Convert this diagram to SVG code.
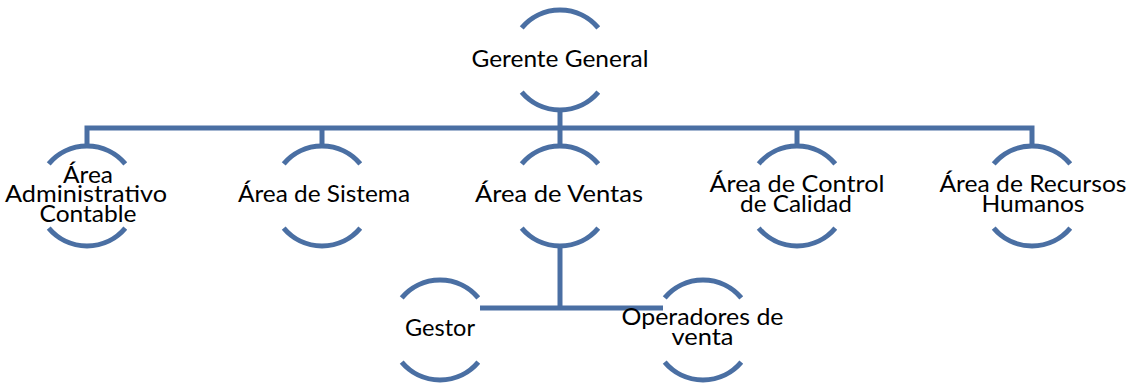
<svg xmlns="http://www.w3.org/2000/svg" xmlns:xlink="http://www.w3.org/1999/xlink" width="1140" height="385" viewBox="0 0 1140 385">
<style>
.arc{fill:none;stroke:#4A6FA3;stroke-width:5}
.conn{fill:none;stroke:#4A6FA3;stroke-width:5;stroke-linejoin:miter;stroke-linecap:butt}
text{font-family:Lato,"Open Sans","Liberation Sans",sans-serif;font-size:23px;fill:#000;text-anchor:middle}
</style>
<defs>
<g id="ring">
<path class="arc" d="M-38.3 -32.1 A50 50 0 0 1 38.3 -32.1"/>
<path class="arc" d="M-38.3 32.1 A50 50 0 0 0 38.3 32.1"/>
</g>
</defs>
<rect width="1140" height="385" fill="#fff"/>
<g id="connectors">
<path class="conn" d="M560 110 V128"/>
<path class="conn" d="M87 146 V128 H1032 V146"/>
<path class="conn" d="M322 128 V146"/>
<path class="conn" d="M560 128 V146"/>
<path class="conn" d="M797 128 V146"/>
<path class="conn" d="M560 246 V308"/>
<path class="conn" d="M480 308 H663"/>
</g>
<g id="gerente">
<use xlink:href="#ring" x="560" y="60"/>
<text x="560" y="67" textLength="177" lengthAdjust="spacingAndGlyphs">Gerente General</text>
</g>
<g id="administrativo">
<use xlink:href="#ring" x="87" y="196"/>
<text x="88" y="183" textLength="50" lengthAdjust="spacingAndGlyphs">Área</text>
<text x="86" y="202" textLength="162" lengthAdjust="spacingAndGlyphs">Administrativo</text>
<text x="88" y="222" textLength="97" lengthAdjust="spacingAndGlyphs">Contable</text>
</g>
<g id="sistema">
<use xlink:href="#ring" x="322" y="196"/>
<text x="324" y="202" textLength="172" lengthAdjust="spacingAndGlyphs">Área de Sistema</text>
</g>
<g id="ventas">
<use xlink:href="#ring" x="560" y="196"/>
<text x="559" y="202" textLength="168" lengthAdjust="spacingAndGlyphs">Área de Ventas</text>
</g>
<g id="calidad">
<use xlink:href="#ring" x="797" y="196"/>
<text x="797" y="192" textLength="175" lengthAdjust="spacingAndGlyphs">Área de Control</text>
<text x="796" y="212" textLength="112" lengthAdjust="spacingAndGlyphs">de Calidad</text>
</g>
<g id="rrhh">
<use xlink:href="#ring" x="1032" y="196"/>
<text x="1033" y="192" textLength="187" lengthAdjust="spacingAndGlyphs">Área de Recursos</text>
<text x="1033" y="212" textLength="103" lengthAdjust="spacingAndGlyphs">Humanos</text>
</g>
<g id="gestor">
<use xlink:href="#ring" x="440" y="330"/>
<text x="440" y="336" textLength="70" lengthAdjust="spacingAndGlyphs">Gestor</text>
</g>
<g id="operadores">
<use xlink:href="#ring" x="703" y="330"/>
<text x="702.5" y="325" textLength="162" lengthAdjust="spacingAndGlyphs">Operadores de</text>
<text x="702.5" y="345" textLength="62" lengthAdjust="spacingAndGlyphs">venta</text>
</g>
</svg>
